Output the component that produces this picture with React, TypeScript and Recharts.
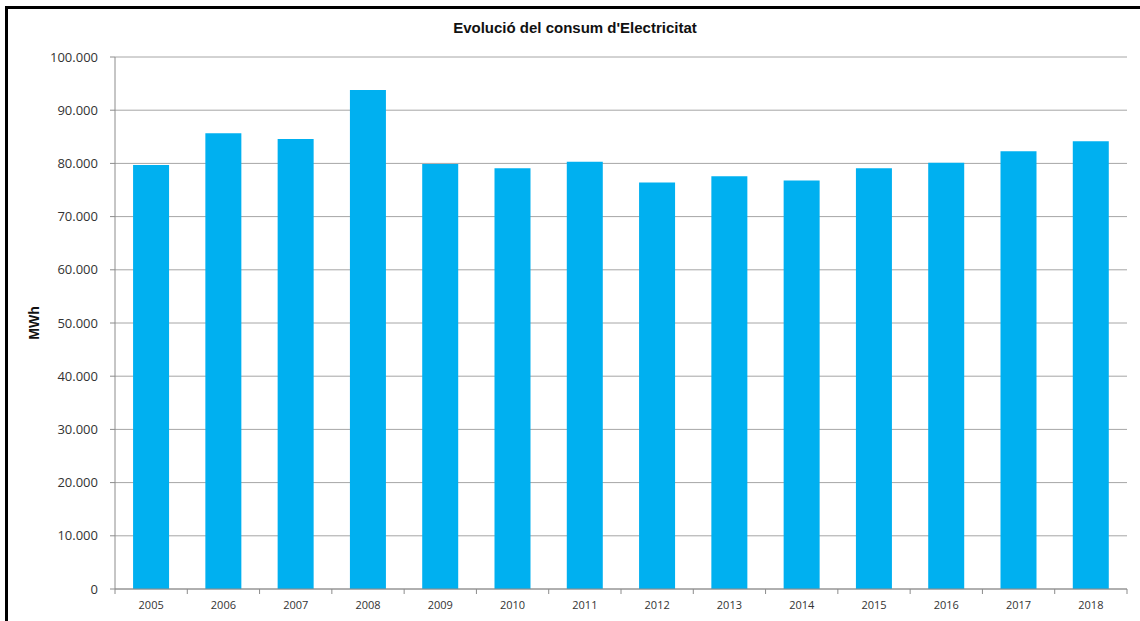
import React from 'react';
import { BarChart, Bar, XAxis, YAxis, CartesianGrid } from 'recharts';

const years = ['2005', '2006', '2007', '2008', '2009', '2010', '2011', '2012', '2013', '2014', '2015', '2016', '2017', '2018'];
const consum = [79700, 85650, 84600, 93800, 79900, 79100, 80300, 76400, 77600, 76800, 79100, 80100, 82300, 84150];
const yTicks = [0, 10000, 20000, 30000, 40000, 50000, 60000, 70000, 80000, 90000, 100000];

const data = years.map((year, i) => ({ year, consum: consum[i] }));

const formatThousands = (value: number) =>
    value === 0 ? '0' : String(value).replace(/\B(?=(\d{3})+(?!\d))/g, '.');

const TICK_SIZE = 5;
const TICK_MARGIN = 7;

// Excel style: tick marks sit between the categories, label in the middle
// eslint-disable-next-line @typescript-eslint/no-explicit-any
const YearTick = (props: any) => {
    const { x, y, payload, index } = props;
    const half = payload && payload.offset ? payload.offset : 36;
    const axisY = y - TICK_SIZE - TICK_MARGIN;
    return (
        <g>
            {index === 0 && (
                <line x1={x - half} x2={x - half} y1={axisY} y2={axisY + TICK_SIZE} stroke="#8c8c8c" />
            )}
            <line x1={x + half} x2={x + half} y1={axisY} y2={axisY + TICK_SIZE} stroke="#8c8c8c" />
            <text x={x} y={y} dy="0.71em" textAnchor="middle" fontSize={11} fill="#333" fontFamily="Open Sans, sans-serif">
                {payload.value}
            </text>
        </g>
    );
};

const App: React.FC = () => {
    return (
        <div style={{ position: 'absolute', left: 0, top: 0, width: 1140, height: 621, background: '#fff', overflow: 'hidden' }}>
            {/* frame of the original image */}
            <div style={{ position: 'absolute', left: 5, top: 6, width: 1140, height: 640, borderTop: '3px solid #000', borderLeft: '3px solid #000' }} />
            <div style={{
                position: 'absolute', left: 375, width: 400, top: 19, textAlign: 'center',
                fontFamily: 'Liberation Sans, Arial, sans-serif', fontWeight: 'bold', fontSize: 15, color: '#111'
            }}>
                Evolució del consum d'Electricitat
            </div>
            <div style={{
                position: 'absolute', left: 34, top: 323, transform: 'translate(-50%, -50%) rotate(-90deg)',
                fontFamily: 'Liberation Sans, Arial, sans-serif', fontWeight: 'bold', fontSize: 14, color: '#111'
            }}>
                MWh
            </div>
            <BarChart
                width={1140}
                height={621}
                data={data}
                margin={{ top: 57, right: 13, bottom: 0, left: 0 }}
                barCategoryGap="25%"
                style={{ position: 'absolute', left: 0, top: 0 }}
            >
                <CartesianGrid vertical={false} stroke="#a6a6a6" strokeWidth={1} />
                <XAxis
                    dataKey="year"
                    height={32}
                    tickLine={false}
                    tickSize={TICK_SIZE}
                    tickMargin={TICK_MARGIN}
                    axisLine={{ stroke: '#8c8c8c' }}
                    tick={<YearTick />}
                    interval={0}
                />
                <YAxis
                    width={115}
                    domain={[0, 100000]}
                    ticks={yTicks}
                    tickFormatter={formatThousands}
                    tickSize={5}
                    tickMargin={12}
                    axisLine={{ stroke: '#8c8c8c' }}
                    tickLine={{ stroke: '#8c8c8c' }}
                    tick={{ fontSize: 13, fill: '#333', fontFamily: 'Open Sans, sans-serif' }}
                />
                <Bar dataKey="consum" fill="#00b0f0" isAnimationActive={false} />
            </BarChart>
        </div>
    );
};

export default App;
